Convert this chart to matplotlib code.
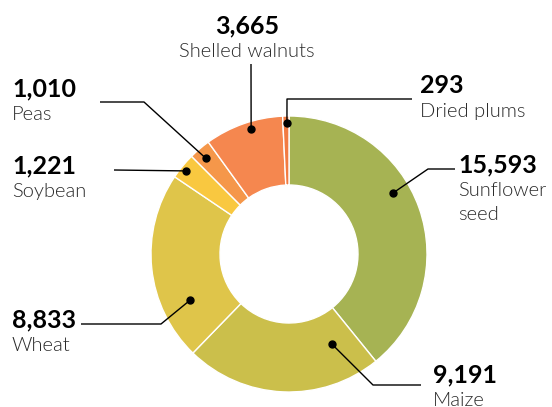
import matplotlib
matplotlib.use("Agg")
import matplotlib.pyplot as plt
import numpy as np

# data
crops = ["Sunflower\nseed", "Maize", "Wheat", "Soybean", "Peas", "Shelled walnuts", "Dried plums"]
values = [15593, 9191, 8833, 1221, 1010, 3665, 293]
colors = ["#a6b353", "#cbbf4b", "#dfc54a", "#f9c840", "#f5974a", "#f5874f", "#f27b42"]

# label layout (pixel coords, y from top): dot angle (deg cw from top), dot radius,
# leader path, number baseline position, alignment
W, H = 552, 407
CX, CY, R, R_IN = 289, 254, 138, 69
dot_pos = [(59.6, 121), (154.5, 100), (245, 109), (309, 132), (319, 127), (343.2, 131), (359.1, 131)]
leaders = [
    [(428, 169), (455, 169)],
    [(373, 385), (421, 385)],
    [(161, 324), (81, 324)],
    [(114, 170)],
    [(144, 102), (100, 102)],
    [(251, 64)],
    [(287, 99), (412, 99)],
]
text_pos = [(458, 172, "left"), (433, 382, "left"), (12, 327, "left"), (12, 173, "left"),
            (12, 96, "left"), (247, 33, "center"), (420, 93, "left")]

plt.rcParams["font.family"] = ["Lato", "DejaVu Sans"]

fig = plt.figure(figsize=(W / 100, H / 100), dpi=100)
ax = fig.add_axes([0, 0, 1, 1])

ax.pie(values, colors=colors, startangle=90, counterclock=False,
       center=(CX, H - CY), radius=R, frame=True,
       wedgeprops=dict(width=R - R_IN, edgecolor="white", linewidth=1.0))
ax.set_xlim(0, W)
ax.set_ylim(0, H)
ax.set_aspect("equal")
ax.axis("off")

for (ang, rr), path, (tx, ty, ha), v, name in zip(dot_pos, leaders, text_pos, values, crops):
    a = np.radians(ang)
    dx, dy = CX + rr * np.sin(a), CY - rr * np.cos(a)
    pts = [(dx, dy)] + path
    xs = [p[0] for p in pts]
    ys = [H - p[1] for p in pts]
    ax.plot(xs, ys, color="black", lw=1.0, zorder=5, solid_capstyle="butt")
    ax.plot(dx, H - dy, "o", color="black", ms=5, zorder=6)
    ax.text(tx, H - ty, f"{v:,}", ha=ha, va="baseline", fontsize=18,
            fontweight="bold", color="black")
    for k, line in enumerate(name.split("\n")):
        ax.text(tx, H - ty - 24 - 24 * k, line, ha=ha, va="baseline", fontsize=14.5,
                fontweight=300, color="#2a2a2a")

fig.savefig("out.png", dpi=100)
